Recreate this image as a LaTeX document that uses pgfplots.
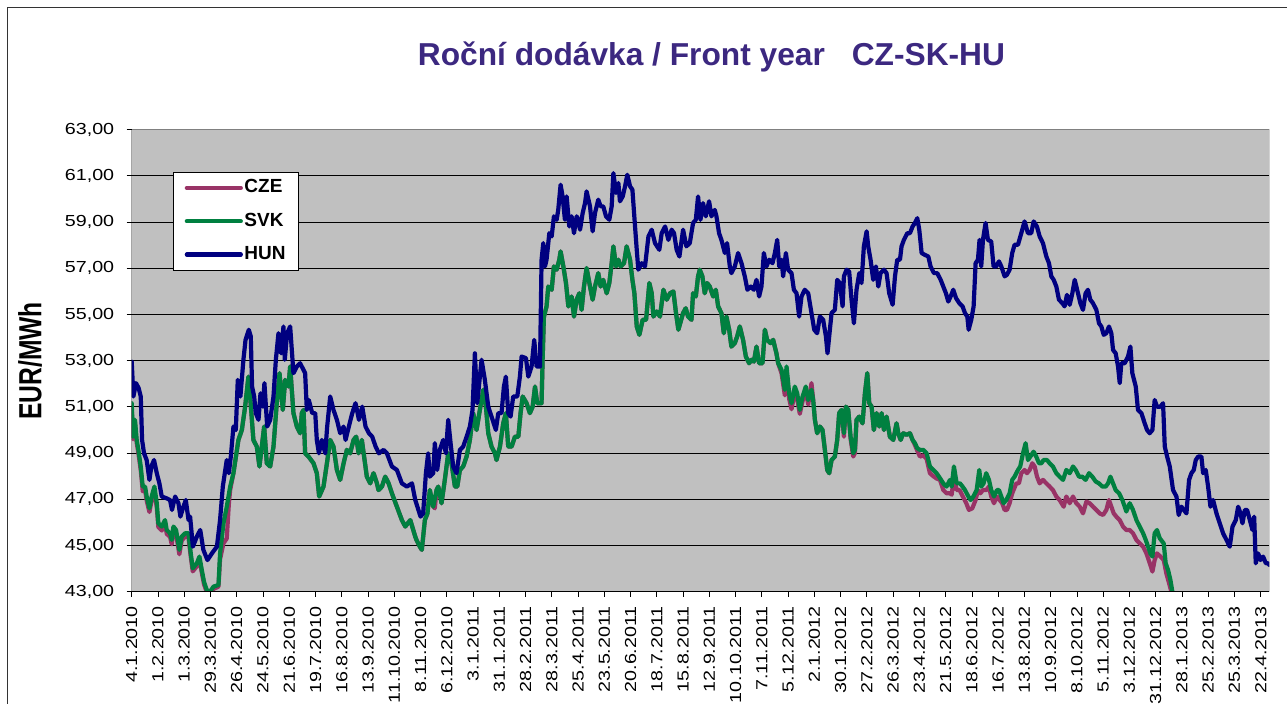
\documentclass[border=0pt]{standalone}
\usepackage{fontspec}
\setmainfont{Liberation Sans}
\newfontfamily\tickfont[FakeStretch=1.23]{Liberation Sans}
\newfontfamily\ylabfont[FakeStretch=0.77]{Liberation Sans}
\usepackage{pgfplots}
\pgfplotsset{compat=1.18}
\definecolor{czecol}{RGB}{153,51,102}
\definecolor{svkcol}{RGB}{0,128,64}
\definecolor{huncol}{RGB}{0,0,128}
\definecolor{bggray}{RGB}{192,192,192}
\definecolor{bordergray}{RGB}{128,128,128}
\definecolor{titlecol}{RGB}{60,40,128}
\begin{document}
\begin{tikzpicture}
\useasboundingbox (0,0) rectangle (1287bp,704bp);
\fill[white] (0,0) rectangle (1287bp,704bp);
\draw[black!80, line width=1bp] (7.5bp,-5bp) -- (7.5bp,696.5bp) -- (1295bp,696.5bp);
\node[anchor=base, text=titlecol, font=\bfseries\fontsize{31.7bp}{34bp}\selectfont] at (711.5bp,638bp) {Roční dodávka / Front year\hspace{0.85em}CZ-SK-HU};
\node[rotate=90, anchor=center, font=\ylabfont\bfseries\fontsize{32bp}{34bp}\selectfont] at (30bp,343bp) {EUR/MWh};
\begin{axis}[
  at={(131.7bp,112.3bp)}, anchor=south west,
  scale only axis, width=1137.6bp, height=462bp,
  xmin=0, xmax=866.5, ymin=43, ymax=63,
  axis background/.style={fill=bggray},
  axis line style={draw=none},
  ymajorgrids, grid style={black, line width=0.9bp},
  xtick={0,20,...,860},
  xticklabels={4.1.2010, 1.2.2010, 1.3.2010, 29.3.2010, 26.4.2010, 24.5.2010, 21.6.2010, 19.7.2010, 16.8.2010, 13.9.2010, 11.10.2010, 8.11.2010, 6.12.2010, 3.1.2011, 31.1.2011, 28.2.2011, 28.3.2011, 25.4.2011, 23.5.2011, 20.6.2011, 18.7.2011, 15.8.2011, 12.9.2011, 10.10.2011, 7.11.2011, 5.12.2011, 2.1.2012, 30.1.2012, 27.2.2012, 26.3.2012, 23.4.2012, 21.5.2012, 18.6.2012, 16.7.2012, 13.8.2012, 10.9.2012, 8.10.2012, 5.11.2012, 3.12.2012, 31.12.2012, 28.1.2013, 25.2.2013, 25.3.2013, 22.4.2013},
  ytick={43,45,...,63},
  xtick pos=bottom, ytick pos=left,
  tick align=outside, major tick length=5bp,
  tick style={black, line width=0.8bp},
  xticklabel shift=6bp, yticklabel shift=9bp,
  /pgf/number format/assume math mode=true,
  yticklabel style={font=\tickfont\fontsize{16bp}{16bp}\selectfont, /pgf/number format/.cd, fixed, fixed zerofill, precision=2, use comma},
  xticklabel style={font=\tickfont\fontsize{16bp}{16bp}\selectfont, rotate=90, anchor=east},
  every axis plot/.append style={line width=4.2bp, line join=round, line cap=round, no markers},
  legend style={at={(0.0366,0.909)}, anchor=north west, draw=black, line width=0.8bp, fill=white,
    inner xsep=11bp, inner ysep=3.8bp, row sep=9.3bp, column sep=0bp,
    nodes={inner xsep=1.5bp, inner ysep=3bp, text height=14bp, text depth=4bp},
    font=\bfseries\fontsize{19bp}{19bp}\selectfont},
  legend cell align=left,
  legend image code/.code={\draw[#1, line cap=round] (0bp,0bp) -- (54bp,0bp);},
]
% CZE
\addplot[czecol] coordinates {
(0,51.00) (1.0,49.60) (2.5,50.30) (3.8,49.45) (5.1,49.00) (6.9,48.25) (8.4,47.35) (10.2,47.40) (11.4,46.95) (13.5,46.45) (15.2,46.95) (17.3,47.35) (19.1,46.65) (20.3,45.80) (22.9,45.65) (25.4,45.95) (26.7,45.50) (29.2,45.38) (30.5,45.05) (31.8,45.65) (33.8,45.50) (36.3,44.62) (38.1,45.22) (40.7,45.38) (43.2,45.38) (45.0,44.50) (46.5,43.88) (49.6,44.10) (51.6,44.40) (53.4,43.82) (55.1,43.32) (57.2,42.98) (59.7,42.92) (62.3,43.12) (66.1,43.22) (67.3,44.40) (69.9,45.10) (72.4,45.30) (74.0,46.80) (75.0,47.40) (77.5,48.13)
(81.3,49.57) (83.9,50.00) (86.4,51.01) (88.9,52.31) (90.2,51.45) (92.7,49.57) (95.3,49.28) (97.3,48.42) (99.1,49.28) (100.9,50.15) (102.9,48.56) (105.5,48.42) (108.0,49.28) (110.5,51.16) (112.6,52.46) (115.1,50.87) (116.9,52.17) (119.4,51.88) (120.7,52.75) (123.2,50.73) (125.8,50.15) (128.3,49.86) (129.6,50.73) (130.9,50.87) (132.1,48.99) (134.7,48.85) (138.5,48.56) (141.0,48.13) (142.8,47.12) (146.1,47.55) (148.7,48.56) (151.2,49.57) (153.7,49.28) (156.3,48.27) (158.8,47.84) (161.4,48.56) (163.9,49.14) (166.4,48.99) (169.0,49.57) (171.0,49.71) (172.8,48.99) (175.3,49.57) (179.1,47.98) (181.7,47.69) (184.2,48.13) (186.8,47.69) (188.0,47.40) (190.6,47.55) (193.1,47.98) (195.7,47.69) (198.2,47.26) (202.0,46.68) (205.8,46.10) (208.4,45.82) (212.2,46.10) (216.0,45.38)
(216.9,45.24) (219.5,44.95) (221.0,44.81) (223.3,46.10) (225.3,46.39) (227.1,47.40) (229.7,46.68) (230.9,46.61) (232.2,47.40) (233.5,47.55) (236.0,46.83) (238.5,47.84) (241.1,48.99) (243.6,48.56) (246.2,47.55) (248.0,47.55) (250.0,48.27) (252.5,48.42) (255.1,48.85) (257.6,49.57) (260.1,50.73) (262.7,50.00) (265.2,50.87) (267.8,51.74) (269.8,51.01) (271.6,49.86) (274.1,49.28) (276.7,48.99) (277.9,48.70) (280.5,49.28) (283.0,50.29) (285.0,50.73) (286.8,49.28) (289.4,49.28) (291.9,49.71) (294.5,49.71) (296.2,50.73) (297.8,51.45) (300.8,51.16) (303.3,50.73) (305.4,51.01) (307.2,51.88) (308.9,51.16) (312.2,51.16) (313.0,53.04) (314.0,54.91) (316.0,55.35) (317.3,56.21) (319.9,56.07) (321.6,57.08) (323.7,56.94) (325.7,57.37) (326.7,57.73) (328.8,57.08) (330.8,56.36) (332.6,55.35) (335.1,55.78) (336.9,54.91) (338.9,55.64) (341.0,55.92) (342.7,55.20) (344.5,56.21) (346.5,57.01) (349.1,56.21) (351.1,55.64) (352.9,56.21) (355.4,56.79) (357.2,56.21) (359.2,56.50) (361.8,55.92) (363.8,56.36) (365.6,57.22) (366.9,57.95) (368.9,57.08) (370.7,57.37) (372.5,57.08) (375.0,57.22) (377.0,57.95) (379.6,57.37) (381.4,56.50) (382.9,55.92) (384.7,54.48) (386.7,54.12) (389.2,54.77) (391.8,54.77) (394.3,56.36) (396.1,55.92) (397.4,54.91) (399.9,55.13) (402.4,54.91) (405.0,56.07) (407.5,55.64) (410.1,55.92) (412.6,56.00) (414.6,55.06) (416.4,54.34)
(420.0,55.06) (422.0,55.27) (423.8,54.91) (426.4,54.77) (427.6,55.92) (429.7,55.78) (431.4,56.65) (432.7,56.94) (434.7,56.65) (436.5,55.92) (438.3,56.36) (440.3,56.21) (442.9,55.78) (444.9,56.07) (446.7,55.35) (449.2,55.06) (451.0,54.19) (453.0,54.91) (455.1,54.34) (456.8,53.61) (459.4,53.76) (461.2,54.05) (463.2,54.48) (465.7,53.90) (467.8,53.18) (470.3,52.89) (472.1,53.04) (473.9,52.96) (475.9,53.61) (477.9,52.89) (480.5,52.89) (482.3,54.34) (484.0,53.90) (486.6,53.76) (488.6,53.90) (491.1,53.32)
(492.4,52.89) (495.0,52.45) (497.5,51.50) (498.8,52.55) (500.8,51.35) (502.6,50.90) (505.1,51.65) (506.9,51.35) (508.9,50.70) (511.0,51.25) (513.5,51.70) (515.3,51.10) (517.8,52.03) (519.1,51.30) (520.4,50.44)
(522.1,49.86) (524.2,50.15) (526.2,50.00) (528.0,49.14) (529.8,48.27) (531.3,48.13) (533.1,48.70) (535.6,48.85) (537.4,49.57) (538.9,50.73)
(540.7,50.87) (542.5,49.71) (544.0,51.01) (545.8,50.87) (547.6,49.60) (549.6,48.85) (550.9,49.00) (552.1,50.44)
(554.2,50.58) (556.7,50.29) (558.5,51.59) (560.3,52.46) (561.8,51.16) (563.6,51.01) (565.3,50.00) (567.4,50.73) (569.4,50.15) (571.2,50.73) (573.0,50.00) (575.0,50.58) (577.5,49.71) (580.1,49.57) (582.6,50.29) (583.9,49.86) (585.7,49.57) (587.7,49.86) (590.2,49.79) (592.8,49.86) (594.8,49.57)
(596.6,49.35) (598.4,49.10) (600.4,48.85) (603.0,48.90) (605.5,48.75) (608.0,48.13) (610.6,48.00) (613.1,47.90) (615.7,47.84) (618.2,47.40) (620.7,47.26) (623.3,47.26) (624.6,47.20) (626.3,47.98) (628.4,47.40) (630.6,47.40)
(633.1,47.12) (635.7,46.83) (637.7,46.54) (640.3,46.61) (642.8,46.97) (644.6,47.40) (646.4,47.26) (648.4,47.40) (650.9,47.40) (653.0,47.55) (654.7,47.12) (656.8,46.83) (659.1,47.12) (661.1,46.97) (663.1,46.83) (664.9,46.54) (666.7,46.54) (668.7,46.83) (670.7,47.26) (673.8,47.69) (675.8,47.69) (677.6,48.13) (680.1,48.27) (681.9,48.13) (684.0,48.27) (686.0,48.56) (687.8,48.42) (689.6,47.98) (691.6,47.69) (694.1,47.84) (696.7,47.69) (699.2,47.55) (701.7,47.40) (704.3,47.12) (706.8,46.97) (709.9,46.68) (711.9,47.12) (714.5,46.83) (717.0,47.12) (719.5,46.83) (722.1,46.68) (724.6,46.39) (727.2,46.90) (729.7,46.83) (732.2,46.68) (734.8,46.54) (737.3,46.39) (739.9,46.32) (742.4,46.54) (744.4,46.97) (746.2,46.68) (748.0,46.39) (750.0,46.25) (752.6,46.10) (755.1,45.82) (757.6,45.67) (760.2,45.67) (762.7,45.53) (765.3,45.24) (767.8,45.09) (770.4,44.95) (772.9,44.66) (775.5,44.23) (777.5,43.87) (779.2,44.37) (781.0,44.66) (783.6,44.52) (786.1,44.37) (788.1,43.79) (790.2,43.36) (791.9,43.00) (793.7,42.35)
};
\addlegendentry{CZE}
% SVK
\addplot[svkcol] coordinates {
(0,51.16) (1.0,49.71) (2.5,50.44) (3.8,49.57) (5.1,49.14) (6.9,48.42) (8.4,47.55) (10.2,47.55) (11.4,47.12) (13.5,46.61) (15.2,47.12) (17.3,47.55) (19.1,46.83) (20.3,45.96) (22.9,45.82) (25.4,46.10) (26.7,45.67) (29.2,45.53) (30.5,45.24) (31.8,45.82) (33.8,45.67) (36.3,44.81) (38.1,45.38) (40.7,45.53) (43.2,45.53) (45.0,44.66) (46.5,44.01) (49.6,44.23) (51.6,44.52) (53.4,43.94) (55.1,43.43) (57.2,43.07) (59.7,43.00) (62.3,43.22) (66.1,43.29) (67.3,44.66) (69.9,45.96) (72.4,46.68) (75.0,47.55) (77.5,48.13)
(81.3,49.57) (83.9,50.00) (86.4,51.01) (88.9,52.31) (90.2,51.45) (92.7,49.57) (95.3,49.28) (97.3,48.42) (99.1,49.28) (100.9,50.15) (102.9,48.56) (105.5,48.42) (108.0,49.28) (110.5,51.16) (112.6,52.46) (115.1,50.87) (116.9,52.17) (119.4,51.88) (120.7,52.75) (123.2,50.73) (125.8,50.15) (128.3,49.86) (129.6,50.73) (130.9,50.87) (132.1,48.99) (134.7,48.85) (138.5,48.56) (141.0,48.13) (142.8,47.12) (146.1,47.55) (148.7,48.56) (151.2,49.57) (153.7,49.28) (156.3,48.27) (158.8,47.84) (161.4,48.56) (163.9,49.14) (166.4,48.99) (169.0,49.57) (171.0,49.71) (172.8,48.99) (175.3,49.57) (179.1,47.98) (181.7,47.69) (184.2,48.13) (186.8,47.69) (188.0,47.40) (190.6,47.55) (193.1,47.98) (195.7,47.69) (198.2,47.26) (202.0,46.68) (205.8,46.10) (208.4,45.82) (212.2,46.10) (216.0,45.38)
(216.9,45.24) (219.5,44.95) (221.0,44.81) (223.3,46.10) (225.3,46.39) (227.1,47.40) (229.7,46.68) (232.2,47.40) (233.5,47.55) (236.0,46.83) (238.5,47.84) (241.1,48.99) (243.6,48.56) (246.2,47.55) (248.0,47.55) (250.0,48.27) (252.5,48.42) (255.1,48.85) (257.6,49.57) (260.1,50.73) (262.7,50.00) (265.2,50.87) (267.8,51.74) (269.8,51.01) (271.6,49.86) (274.1,49.28) (276.7,48.99) (277.9,48.70) (280.5,49.28) (283.0,50.29) (285.0,50.73) (286.8,49.28) (289.4,49.28) (291.9,49.71) (294.5,49.71) (296.2,50.73) (297.8,51.45) (300.8,51.16) (303.3,50.73) (305.4,51.01) (307.2,51.88) (308.9,51.16) (312.2,51.16) (313.0,53.04) (314.0,54.91) (316.0,55.35) (317.3,56.21) (319.9,56.07) (321.6,57.08) (323.7,56.94) (325.7,57.37) (326.7,57.73) (328.8,57.08) (330.8,56.36) (332.6,55.35) (335.1,55.78) (336.9,54.91) (338.9,55.64) (341.0,55.92) (342.7,55.20) (344.5,56.21) (346.5,57.01) (349.1,56.21) (351.1,55.64) (352.9,56.21) (355.4,56.79) (357.2,56.21) (359.2,56.50) (361.8,55.92) (363.8,56.36) (365.6,57.22) (366.9,57.95) (368.9,57.08) (370.7,57.37) (372.5,57.08) (375.0,57.22) (377.0,57.95) (379.6,57.37) (381.4,56.50) (382.9,55.92) (384.7,54.48) (386.7,54.12) (389.2,54.77) (391.8,54.77) (394.3,56.36) (396.1,55.92) (397.4,54.91) (399.9,55.13) (402.4,54.91) (405.0,56.07) (407.5,55.64) (410.1,55.92) (412.6,56.00) (414.6,55.06) (416.4,54.34)
(420.0,55.06) (422.0,55.27) (423.8,54.91) (426.4,54.77) (427.6,55.92) (429.7,55.78) (431.4,56.65) (432.7,56.94) (434.7,56.65) (436.5,55.92) (438.3,56.36) (440.3,56.21) (442.9,55.78) (444.9,56.07) (446.7,55.35) (449.2,55.06) (451.0,54.19) (453.0,54.91) (455.1,54.34) (456.8,53.61) (459.4,53.76) (461.2,54.05) (463.2,54.48) (465.7,53.90) (467.8,53.18) (470.3,52.89) (472.1,53.04) (473.9,52.96) (475.9,53.61) (477.9,52.89) (480.5,52.89) (482.3,54.34) (484.0,53.90) (486.6,53.76) (488.6,53.90) (491.1,53.32) (492.4,52.89) (495.0,52.60) (497.5,51.74) (498.8,52.75) (500.8,51.59) (502.6,51.16) (505.1,51.88) (506.9,51.59) (508.9,50.87) (511.0,51.45) (513.5,51.88) (515.3,51.30) (517.8,51.74) (519.1,51.30) (520.4,50.44) (522.1,49.86) (524.2,50.15) (526.2,50.00) (528.0,49.14) (529.8,48.27) (531.3,48.13) (533.1,48.70) (535.6,48.85) (537.4,49.57) (538.9,50.73) (540.7,50.87) (542.5,49.86) (544.0,51.01) (545.8,50.87) (547.6,49.71) (549.6,48.99) (550.9,49.14) (552.1,50.44) (554.2,50.58) (556.7,50.29) (558.5,51.59) (560.3,52.46) (561.8,51.16) (563.6,51.01) (565.3,50.00) (567.4,50.73) (569.4,50.15) (571.2,50.73) (573.0,50.00) (575.0,50.58) (577.5,49.71) (580.1,49.57) (582.6,50.29) (583.9,49.86) (585.7,49.57) (587.7,49.86) (590.2,49.79) (592.8,49.86) (594.8,49.57) (596.6,49.43) (598.4,49.21) (600.4,49.14) (603.0,49.14) (605.5,48.99) (608.0,48.42) (610.6,48.27) (613.1,48.13) (615.7,47.91) (618.2,47.69) (620.7,47.55) (623.3,47.84) (624.6,47.55) (626.3,48.42) (628.4,47.69) (630.9,47.69) (632.9,47.55) (634.7,47.40) (637.3,47.12) (639.0,46.97) (641.1,47.12) (643.6,47.40) (645.6,48.27)
(647.1,47.55) (648.9,47.69) (650.9,48.13) (653.0,47.84) (654.7,47.40) (656.8,47.12) (659.1,47.40) (660.6,47.40) (662.4,47.12) (664.1,46.83) (666.2,46.97) (668.7,47.26) (670.7,47.84) (672.5,47.98) (675.1,48.27) (676.8,48.42) (678.9,48.99) (680.9,49.43) (682.7,48.70) (684.5,48.85) (687.0,49.06) (689.0,48.85) (691.1,48.56) (692.9,48.56) (694.6,48.70) (697.2,48.70) (699.2,48.56) (701.7,48.42) (704.3,48.13) (706.8,47.98) (709.4,47.84) (711.9,48.27) (714.5,48.13) (717.0,48.42) (719.0,48.27) (721.6,47.98) (724.1,47.98) (726.6,47.84) (729.2,48.13) (731.7,47.98) (734.3,47.77) (736.8,47.69) (739.4,47.55) (741.9,47.55) (743.7,47.69) (745.5,47.98) (747.5,47.69) (749.5,47.40) (752.1,47.26) (754.6,46.97) (756.4,46.68) (757.6,46.47) (760.2,46.83) (762.7,46.54) (765.3,46.10) (767.8,45.82) (770.4,45.53) (772.4,45.24) (774.2,44.95) (775.9,44.66) (777.5,44.52) (779.2,45.53) (781.0,45.67) (783.1,45.31) (786.1,45.09) (787.6,44.23) (789.4,43.94) (791.2,43.51) (792.7,43.00) (794.5,42.35)
};
\addlegendentry{SVK}
% HUN
\addplot[huncol] coordinates {
(0,52.96) (1.3,51.45) (3.3,52.03) (5.3,51.81) (6.9,51.45) (7.9,49.57) (9.4,48.99) (11.4,48.70) (13.5,47.84) (15.0,48.42) (17.0,48.70) (19.1,48.13) (21.1,47.69) (22.9,47.12) (26.7,47.04) (29.2,46.97) (30.7,46.54) (33.1,47.12) (35.6,46.83) (37.1,46.25) (39.4,46.68) (41.2,46.97) (43.3,46.10) (44.5,46.25) (46.6,44.95) (49.6,45.38) (52.2,45.67) (54.6,44.81) (57.7,44.37) (61.1,44.66) (64.9,44.95) (67.3,46.10) (69.4,47.55) (72.4,48.70) (74.0,48.13) (75.5,48.85) (77.5,50.15) (79.3,50.00) (80.8,52.17) (82.8,51.45) (85.1,53.04) (86.7,53.90) (89.2,54.34) (90.7,54.05) (91.7,51.88) (93.3,51.45) (94.5,50.73) (96.6,50.44) (98.1,51.59) (99.9,51.01) (101.1,52.03) (103.2,50.15) (105.5,50.44) (108.0,51.45) (109.8,53.04) (111.8,54.19) (113.8,53.32) (115.6,54.48) (116.6,53.04) (118.4,54.19) (120.7,54.48) (123.2,52.46) (125.8,52.75) (128.3,52.89) (132.1,52.46) (133.4,50.87) (134.9,51.30) (137.5,50.73) (139.8,50.73) (141.0,49.57) (142.6,48.99) (144.8,49.57) (147.4,48.99) (148.9,50.15) (151.2,51.45) (153.7,50.87) (156.3,50.44) (158.8,49.86) (161.4,50.15) (162.9,49.57) (165.4,50.15) (168.0,50.73) (170.5,51.16) (173.1,50.44) (175.6,51.01) (178.1,50.15) (180.7,49.86) (183.2,49.71) (185.8,49.28) (188.3,48.99) (191.9,49.14) (194.4,48.99) (198.2,48.42) (202.0,48.27) (205.8,47.69) (209.6,47.55) (213.5,47.69) (216.0,46.97)
(220.0,46.25) (222.0,46.39) (224.1,48.13) (225.8,48.99) (227.1,47.98) (229.7,48.13) (230.9,49.43) (232.7,48.27) (234.7,49.14) (237.3,49.57) (239.3,48.99) (241.1,50.44) (242.9,49.43) (244.9,48.42) (247.4,48.13) (250.0,49.14) (252.5,49.28) (255.1,49.71) (257.6,50.15) (259.6,50.87) (261.4,53.32) (263.2,51.16) (266.5,53.04) (269.0,52.17) (271.6,51.01) (274.9,50.44) (277.4,50.00) (279.2,50.73) (281.7,50.73) (283.5,51.88) (285.0,52.31) (286.8,50.73) (288.6,50.58) (290.6,51.45) (293.7,51.45) (295.7,52.31) (297.0,53.18) (300.3,53.11) (302.1,52.31) (304.6,52.75) (306.6,53.90) (308.4,52.75) (311.0,52.75) (312.2,57.37) (313.5,58.09) (314.8,57.08) (316.0,57.37) (318.1,58.52) (319.9,58.38) (321.6,59.25) (323.7,59.10) (324.9,59.53) (326.7,60.62) (328.2,60.11) (330.0,59.10) (331.3,60.11) (333.3,58.81) (335.1,59.25) (336.9,58.52) (338.9,59.25) (340.2,59.10) (341.5,58.67) (343.5,59.39) (345.3,59.82) (346.5,60.33) (349.1,59.68) (351.1,58.60) (352.9,59.39) (355.4,59.97) (357.2,59.68) (359.2,59.68) (361.3,59.25) (363.8,59.10) (365.6,59.68) (366.9,61.12) (368.9,60.26) (370.7,60.69) (371.9,59.90) (374.0,60.11) (375.8,60.55) (377.5,61.05) (379.6,60.55) (381.4,60.40) (383.4,58.81) (384.7,57.80) (385.9,56.94) (388.5,57.22) (391.0,57.08) (393.6,58.38) (396.1,58.67) (398.6,58.09) (401.9,57.80) (403.7,58.52) (406.3,58.81) (408.8,58.23) (411.3,58.67) (413.1,58.52) (415.1,57.80) (417.2,57.51)
(420.0,58.67) (422.5,57.95) (425.1,58.09) (427.6,58.96) (429.7,59.10) (431.4,60.11) (433.2,59.10) (435.2,59.82) (437.3,59.25) (439.8,59.90) (441.6,59.25) (444.1,59.53) (445.4,59.25) (447.4,58.52) (449.2,58.23) (451.8,57.66) (453.5,58.09) (455.6,57.08) (456.8,56.79) (459.4,57.08) (461.9,57.66) (464.5,57.22) (467.0,56.65) (469.0,56.07) (471.6,56.21) (473.9,56.07) (475.9,56.50) (477.9,55.78) (479.7,56.21) (481.5,57.66) (483.5,57.08) (485.6,57.37) (488.1,57.22) (489.9,57.66) (491.7,58.23) (493.2,57.08) (495.0,57.37) (496.2,56.65) (498.3,57.66) (500.0,56.94) (502.6,56.79) (504.4,56.07) (506.4,55.92) (508.4,54.91) (510.2,55.78) (512.7,56.07) (515.3,55.92) (517.8,55.06) (519.9,54.34) (522.1,54.19) (524.2,54.91) (526.7,54.77) (528.8,54.05) (530.0,53.32) (531.8,54.34) (533.1,55.06) (535.6,55.20) (537.4,56.50) (539.4,56.36) (541.5,55.35) (542.5,56.65) (544.5,56.94) (546.5,56.86) (548.3,55.64) (550.1,54.62) (552.1,56.07) (554.2,56.79) (555.9,56.36) (557.7,57.95) (559.8,58.60) (561.0,57.95) (562.8,57.37) (564.8,56.50) (566.9,57.08) (568.7,56.21) (570.4,56.79) (573.0,56.94) (575.0,56.79) (577.0,55.92) (579.6,55.42) (581.4,56.65) (583.1,57.37) (585.2,57.37) (586.4,57.95) (588.2,58.23) (590.8,58.52) (592.8,58.52) (594.8,58.81) (596.6,58.96) (598.4,59.17) (599.9,58.67) (601.7,57.66) (604.2,57.58) (606.8,57.51) (608.5,57.08) (611.1,56.79) (613.6,56.79) (616.2,56.50) (618.2,56.21) (620.2,55.92) (622.0,55.56) (623.8,55.78) (625.8,56.07) (627.9,55.71) (630.4,55.49) (632.9,55.35) (634.7,55.06) (636.5,54.91) (637.5,54.34)
(639.5,54.77) (641.3,55.35) (642.8,57.22) (644.6,57.37) (645.8,58.23) (647.1,57.08) (648.4,58.23) (650.4,58.96) (652.2,58.23) (654.7,58.16) (656.5,57.08) (658.5,57.08) (660.6,57.30) (662.4,57.08) (664.9,56.65) (666.7,56.72) (668.7,56.94) (670.7,57.66) (672.5,58.02) (675.1,58.02) (677.6,58.52) (680.1,59.03) (682.7,58.52) (685.2,58.52) (687.0,59.03) (689.5,58.81) (691.6,58.38) (694.1,58.09) (696.7,57.51) (698.7,57.22) (700.5,56.65) (702.3,56.50) (704.3,56.21) (706.3,55.64) (708.9,55.49) (710.6,55.35) (712.4,55.85) (714.5,55.42) (716.5,55.92) (718.3,56.50) (720.8,55.92) (722.6,55.49) (724.6,55.20) (726.6,55.92) (728.4,56.07) (730.2,55.64) (732.2,55.49) (734.8,55.20) (736.8,54.62) (738.6,54.48) (740.4,54.12) (742.4,54.19) (744.4,54.48) (746.2,54.19) (747.5,53.47) (749.5,53.32) (751.3,52.75) (752.6,52.03) (753.8,52.89) (756.4,52.89) (758.9,53.18) (760.7,53.61) (762.2,52.46) (764.8,51.88) (766.5,50.87) (769.1,50.73) (771.6,50.29) (773.4,50.00) (775.4,49.86) (777.5,50.00) (779.2,51.30) (781.0,51.01) (783.6,51.01) (785.6,51.16) (786.9,49.28) (788.7,48.85) (790.7,48.42) (793.2,47.40) (795.8,47.12) (797.5,46.32) (799.6,46.68) (801.4,46.54) (803.4,46.39) (805.4,47.84) (807.2,48.13) (809.0,48.27) (810.5,48.70) (812.3,48.85) (814.8,48.85) (816.1,48.13) (818.1,48.27) (819.9,47.55) (821.7,46.68) (823.7,46.97) (826.3,46.39) (828.8,45.96) (831.3,45.53) (833.9,45.24) (836.4,44.95) (838.5,45.82) (841.0,46.10) (842.8,46.68) (844.6,46.39) (846.1,45.96) (847.9,46.54) (849.6,46.54) (851.7,46.10) (853.7,45.67) (855.0,46.25) (856.2,44.23) (858.0,44.66) (859.8,44.37) (861.8,44.52) (863.9,44.23) (865.6,44.23) (866.5,44.16)
};
\addlegendentry{HUN}
\draw[bordergray, line width=1bp] (rel axis cs:0,1) -- (rel axis cs:1,1) -- (rel axis cs:1,0);
\draw[black, line width=1.2bp] (rel axis cs:0,1) -- (rel axis cs:0,0) -- (rel axis cs:1,0);
\end{axis}
\end{tikzpicture}
\end{document}
